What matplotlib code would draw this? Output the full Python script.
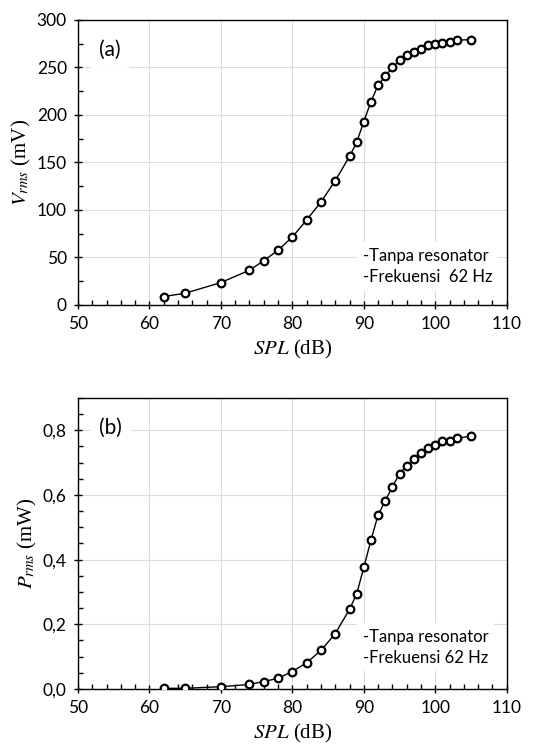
import matplotlib
matplotlib.use('Agg')
import matplotlib.pyplot as plt
from matplotlib.ticker import MultipleLocator, FuncFormatter

plt.rcParams['mathtext.fontset'] = 'stix'

# data
spl = [62, 65, 70, 74, 76, 78, 80, 82, 84, 86, 88, 89, 90, 91, 92, 93, 94,
       95, 96, 97, 98, 99, 100, 101, 102, 103, 105]
v_rms = [8.8, 12.3, 23.5, 36.5, 46.6, 57.5, 71.5, 89.4, 108.3, 130.7, 156.3,
         171.0, 193.0, 214.0, 231.3, 240.8, 249.9, 257.3, 262.9, 266.4, 269.5,
         273.4, 274.4, 276.2, 277.2, 278.6, 279.3]
p_rms = [0.002, 0.002, 0.007, 0.014, 0.023, 0.033, 0.054, 0.081, 0.119, 0.171,
         0.246, 0.294, 0.376, 0.460, 0.538, 0.582, 0.625, 0.666, 0.690, 0.710,
         0.729, 0.746, 0.753, 0.767, 0.768, 0.775, 0.782]

tick_font = 'Lato'
serif = 'Liberation Serif'

fig = plt.figure(figsize=(5.49, 7.51), dpi=100)
ax1 = fig.add_axes([0.142, 0.594, 0.781, 0.3795])
ax2 = fig.add_axes([0.142, 0.0826, 0.781, 0.3875])

def style(ax, ymax, ymajor, yminor, ylabel, tag, note, note_y, fmt=None):
    ax.set_xlim(50, 110)
    ax.set_ylim(0, ymax)
    ax.xaxis.set_major_locator(MultipleLocator(10))
    ax.xaxis.set_minor_locator(MultipleLocator(2))
    ax.yaxis.set_major_locator(MultipleLocator(ymajor))
    ax.yaxis.set_minor_locator(MultipleLocator(yminor))
    if fmt is not None:
        ax.yaxis.set_major_formatter(FuncFormatter(fmt))
    ax.grid(True, which='major', color='#dcdcdc', lw=0.8, zorder=0)
    ax.set_axisbelow(True)
    ax.tick_params(which='major', direction='inout', length=6, width=1,
                   labelsize=12.5, pad=5)
    ax.tick_params(which='minor', direction='in', length=3.5, width=1)
    for lbl in ax.get_xticklabels() + ax.get_yticklabels():
        lbl.set_family(tick_font)
    for sp in ax.spines.values():
        sp.set_linewidth(1.0)
    ax.set_xlabel(r'$\mathit{SPL}$ (dB)', family=serif, fontsize=15, labelpad=4)
    ax.set_ylabel(ylabel, family=serif, fontsize=15, labelpad=3)
    ax.text(0.05, 0.93, tag, transform=ax.transAxes, family=tick_font,
            fontsize=15, va='top', ha='left',
            bbox=dict(facecolor='white', edgecolor='none', pad=6))
    ax.text(0.664, note_y, note, transform=ax.transAxes, family=tick_font,
            fontsize=12, va='center', ha='left', linespacing=1.4,
            bbox=dict(facecolor='white', edgecolor='none', pad=4))

style(ax1, 300, 50, 25, r'$V_{rms}$ (mV)', '(a)',
      '-Tanpa resonator\n-Frekuensi  62 Hz', 0.135)
style(ax2, 0.9, 0.2, 0.05, r'$P_{rms}$ (mW)', '(b)',
      '-Tanpa resonator\n-Frekuensi 62 Hz', 0.143,
      fmt=lambda v, p: ('%.1f' % v).replace('.', ','))

for ax, y in ((ax1, v_rms), (ax2, p_rms)):
    ax.plot(spl, y, color='black', lw=1.0, marker='o', markersize=5.5,
            markerfacecolor='white', markeredgecolor='black',
            markeredgewidth=1.6, zorder=3)

fig.savefig('out.png', dpi=100)
